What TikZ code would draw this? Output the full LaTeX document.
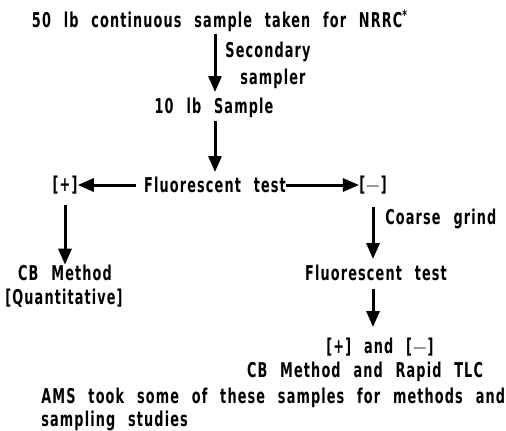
\documentclass[tikz,border=0pt]{standalone}
\usepackage{fontspec}
\setmainfont{DejaVu Sans Condensed}[LetterSpace=5.5,FakeStretch=0.7,WordSpace=2.3,UprightFont=* Bold]
\usetikzlibrary{arrows.meta}
\begin{document}
\begin{tikzpicture}[x=0.5pt,y=-0.5pt,
  txt/.style={inner sep=0pt,anchor=center,font=\fontsize{10.2}{11}\selectfont},
  arr/.style={line width=1.5pt,-{Triangle[width=6.5pt,length=8pt]}}]
\useasboundingbox (0,0) rectangle (506,430);
\node[txt] (top) at (220,21) {50 lb continuous sample taken for NRRC\textsuperscript{*}};
\node[txt,anchor=west] (sec) at (225,52) {Secondary};
\node[txt,anchor=west] (samp) at (240,79) {sampler};
\node[txt] (ten) at (214,108) {10 lb Sample};
\node[txt] (fl1) at (215,185) {Fluorescent test};
\node[txt] (pl) at (65,185) {[+]};
\node[txt] (mi) at (373,185) {[$-$]};
\node[txt,anchor=west] (cg) at (385,219) {Coarse grind};
\node[txt] (cb) at (65,273) {CB Method};
\node[txt] (q) at (64,298) {[Quantitative]};
\node[txt] (fl2) at (376,273) {Fluorescent test};
\node[txt] (pm) at (380,347) {[+] and [$-$]};
\node[txt] (cbr) at (365,372) {CB Method and Rapid TLC};
\node[txt,anchor=west] (ams) at (41,398) {AMS took some of these samples for methods and};
\node[txt,anchor=west] (ss) at (41,421) {sampling studies};
\coordinate (a1s) at (215,34);
\coordinate (a1e) at (215,92);
\draw[arr] (a1s) -- (a1e);
\coordinate (a2s) at (215,121);
\coordinate (a2e) at (215,172);
\draw[arr] (a2s) -- (a2e);
\draw[arr] (fl1.west) ++(-4pt,0) coordinate (l0) (l0) -- (pl.east);
\draw[arr] (fl1.east) -- (mi.west);
\draw[arr] (pl.south) ++(0,-5pt) coordinate (p0) (p0) -- (cb.north);
\coordinate (r0) at (373,207);
\coordinate (r1) at (373,259);
\draw[arr] (r0) -- (r1);
\coordinate (s0) at (373,289);
\coordinate (s1) at (373,327);
\draw[arr] (s0) -- (s1);
\end{tikzpicture}
\end{document}
